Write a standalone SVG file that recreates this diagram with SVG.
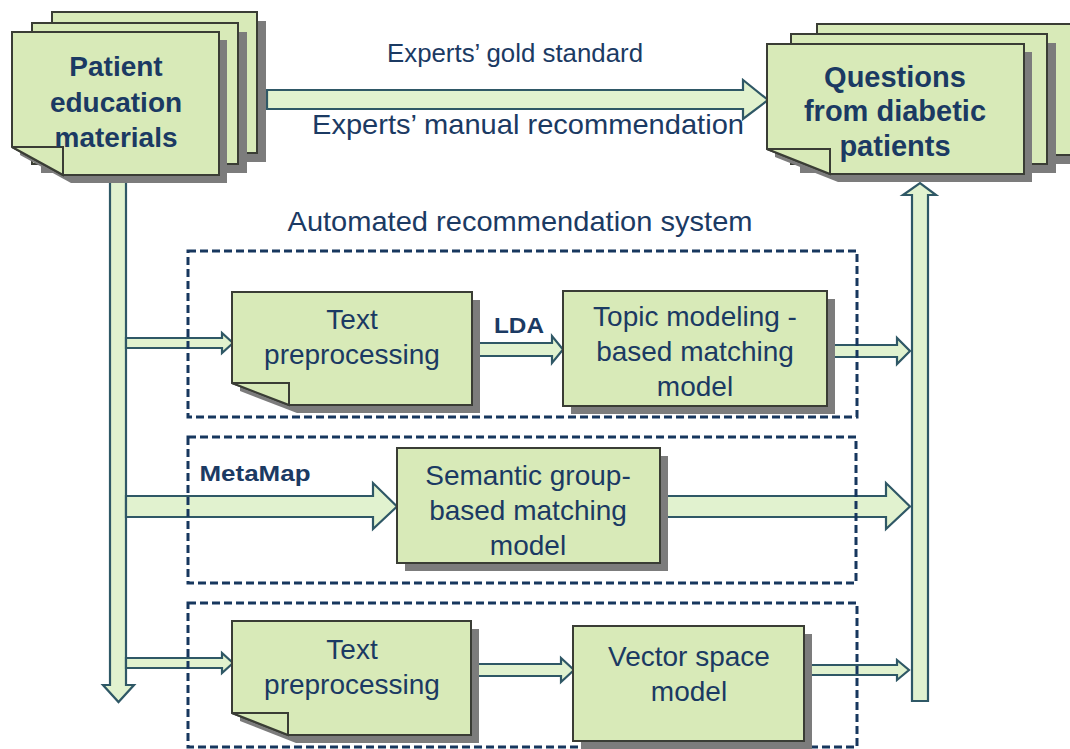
<svg xmlns="http://www.w3.org/2000/svg" width="1070" height="749" viewBox="0 0 1070 749">
<style>
.page{fill:#d8eab8;stroke:#3a3d35;stroke-width:2}
.flap{fill:#d8eab8;stroke:#3a3d35;stroke-width:2}
.shadow{fill:#7c7c7c;stroke:none}
.arrow{fill:#e1f2cf;stroke:#2f5866;stroke-width:2.2;stroke-linejoin:miter}
.dash{fill:none;stroke:#17375e;stroke-width:3;stroke-dasharray:8 4}
.t{font-family:"Liberation Sans",Arial,sans-serif;fill:#1b3a63;text-anchor:middle}
.b{font-weight:bold}
</style>
<rect width="1070" height="749" fill="#ffffff"/>

<g id="connectors">
<polygon class="arrow" points="267,90 743,90 743,80 768,100 743,119 743,109 267,109"/>
<polygon class="arrow" points="110,176 126,176 126,685 134,685 118.5,702 103,685 110,685"/>
<polygon class="arrow" points="126,338 222,338 222,333 233,343 222,353 222,348 126,348"/>
<polygon class="arrow" points="126,496 373,496 373,483 397,506.5 373,529 373,517 126,517"/>
<polygon class="arrow" points="126,658 222,658 222,653 233,663 222,673 222,668 126,668"/>
<polygon class="arrow" points="472,343 552,343 552,336 563,349.5 552,363 552,356 472,356"/>
<polygon class="arrow" points="827,345 897,345 897,338 910,351 897,364 897,357 827,357"/>
<polygon class="arrow" points="660,496 886,496 886,483 910,506.5 886,529 886,517 660,517"/>
<polygon class="arrow" points="472,664 561,664 561,658 574,670 561,682 561,676 472,676"/>
<polygon class="arrow" points="804,665 897,665 897,660 909,670 897,680 897,675 804,675"/>
<polygon class="arrow" points="912,701 912,195 903,195 920,183 936,195 928,195 928,701"/>
</g>

<g id="label-gold">
<text class="t" x="515" y="62" font-size="25" textLength="256" lengthAdjust="spacingAndGlyphs">Experts’ gold standard</text>
</g>
<g id="label-manual">
<text class="t" x="528" y="134" font-size="28" textLength="432" lengthAdjust="spacingAndGlyphs">Experts’ manual recommendation</text>
</g>
<g id="label-automated">
<text class="t" x="520" y="231" font-size="28" textLength="465" lengthAdjust="spacingAndGlyphs">Automated recommendation system</text>
</g>

<g id="group-lda">
<rect class="dash" x="188" y="251" width="669" height="166"/>
</g>
<g id="group-metamap">
<rect class="dash" x="188" y="437" width="668" height="146"/>
</g>
<g id="group-vsm">
<rect class="dash" x="188" y="603" width="669" height="144"/>
</g>

<g id="patient-materials">
<rect class="shadow" x="61" y="21" width="205" height="141"/>
<rect class="page" x="52" y="12" width="205" height="141"/>
<rect class="shadow" x="41" y="32" width="206" height="141"/>
<rect class="page" x="32" y="23" width="206" height="141"/>
<path class="shadow" d="M20,40 H227 V183 H71 L20,155 Z"/>
<path class="page" d="M12,32 H219 V175 H63 L12,147 Z"/>
<path class="flap" d="M12,147 H63 V175 Z"/>
<text class="t b" x="116" y="76" font-size="28">Patient</text>
<text class="t b" x="116" y="112" font-size="28">education</text>
<text class="t b" x="116" y="147" font-size="28">materials</text>
</g>

<g id="questions">
<rect class="shadow" x="826" y="33" width="260" height="131"/>
<rect class="page" x="817" y="24" width="260" height="131"/>
<rect class="shadow" x="800" y="43" width="256" height="130"/>
<rect class="page" x="791" y="34" width="256" height="130"/>
<path class="shadow" d="M775,52 H1032 V182 H838 L775,157 Z"/>
<path class="page" d="M767,44 H1024 V174 H830 L767,149 Z"/>
<path class="flap" d="M767,149 H830 V174 Z"/>
<text class="t b" x="895" y="87" font-size="29">Questions</text>
<text class="t b" x="895" y="121" font-size="29">from diabetic</text>
<text class="t b" x="895" y="156" font-size="29">patients</text>
</g>

<g id="text-prep-1">
<path class="shadow" d="M240,300 H480 V413 H297 L240,391 Z"/>
<path class="page" d="M232,292 H472 V405 H289 L232,383 Z"/>
<path class="flap" d="M232,383 H289 V405 Z"/>
<text class="t" x="352" y="329" font-size="28">Text</text>
<text class="t" x="352" y="364" font-size="28">preprocessing</text>
</g>

<g id="lda-label">
<text class="t b" x="519" y="333" font-size="22" textLength="50" lengthAdjust="spacingAndGlyphs">LDA</text>
</g>

<g id="topic-model">
<rect class="shadow" x="571" y="299" width="264" height="115"/>
<rect class="page" x="563" y="291" width="264" height="115"/>
<text class="t" x="695" y="326" font-size="28">Topic modeling -</text>
<text class="t" x="695" y="361" font-size="28">based matching</text>
<text class="t" x="695" y="396" font-size="28">model</text>
</g>

<g id="metamap-label">
<text class="t b" x="255" y="481" font-size="22" textLength="111" lengthAdjust="spacingAndGlyphs">MetaMap</text>
</g>

<g id="semantic-model">
<rect class="shadow" x="405" y="456" width="263" height="115"/>
<rect class="page" x="397" y="448" width="263" height="115"/>
<text class="t" x="528" y="485" font-size="28">Semantic group-</text>
<text class="t" x="528" y="520" font-size="28">based matching</text>
<text class="t" x="528" y="555" font-size="28">model</text>
</g>

<g id="text-prep-2">
<path class="shadow" d="M240,629 H479 V743 H296 L240,721 Z"/>
<path class="page" d="M232,621 H471 V735 H288 L232,713 Z"/>
<path class="flap" d="M232,713 H288 V735 Z"/>
<text class="t" x="352" y="659" font-size="28">Text</text>
<text class="t" x="352" y="694" font-size="28">preprocessing</text>
</g>

<g id="vector-space">
<rect class="shadow" x="581" y="634" width="231" height="115"/>
<rect class="page" x="573" y="626" width="231" height="115"/>
<text class="t" x="689" y="666" font-size="28">Vector space</text>
<text class="t" x="689" y="701" font-size="28">model</text>
</g>
</svg>
